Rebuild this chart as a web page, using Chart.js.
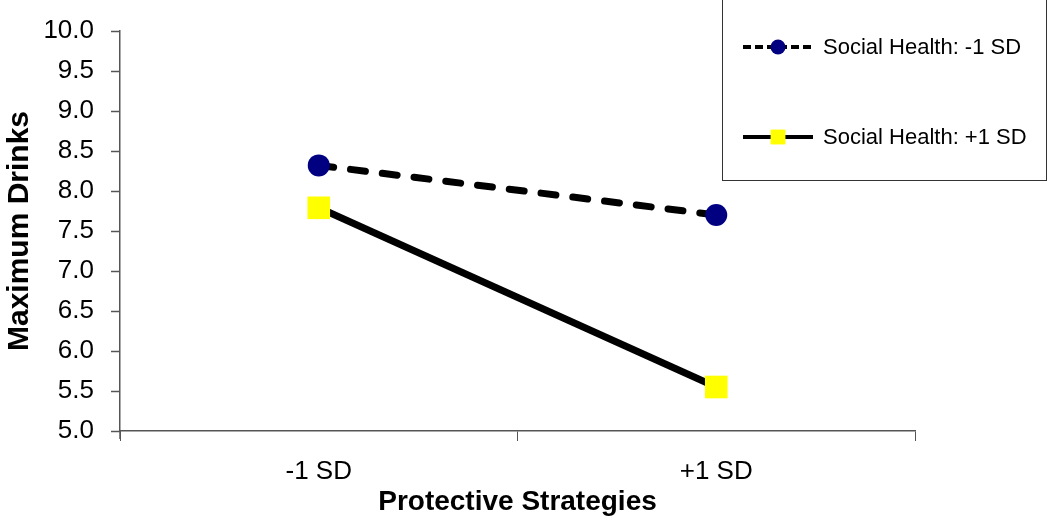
<!DOCTYPE html>
<html>
<head>
<meta charset="utf-8">
<script src="https://cdn.jsdelivr.net/npm/chart.js@4/dist/chart.umd.min.js"></script>
<style>
  html, body { margin: 0; padding: 0; background: #fff; }
  #wrap { width: 1050px; height: 519px; }
</style>
</head>
<body>
<div id="wrap"><canvas id="drinksChart" width="1050" height="519"></canvas></div>
<script>
// values
const categories = ['-1 SD', '+1 SD'];
const lowSocialHealth = [8.32, 7.70];
const highSocialHealth = [7.79, 5.55];
const seriesNames = ['Social Health: -1 SD', 'Social Health: +1 SD'];

const FONT = '"Liberation Sans", Arial, sans-serif';

// small tick marks on the left of the y axis
const yTickMarks = {
  id: 'yTickMarks',
  afterDraw(chart) {
    const y = chart.scales.y;
    const ctx = chart.ctx;
    ctx.save();
    ctx.strokeStyle = '#555';
    ctx.lineWidth = 1.5;
    y.ticks.forEach((t) => {
      const py = Math.round(y.getPixelForValue(t.value)) + 0.5;
      ctx.beginPath();
      ctx.moveTo(y.right - 9, py);
      ctx.lineTo(y.right, py);
      ctx.stroke();
    });
    // axis line runs a bit past the x axis
    ctx.beginPath();
    ctx.moveTo(y.right, y.bottom);
    ctx.lineTo(y.right, y.bottom + 8);
    ctx.stroke();
    ctx.restore();
  }
};

// legend box in the top right corner, like the original
const boxLegend = {
  id: 'boxLegend',
  afterDraw(chart) {
    const ctx = chart.ctx;
    const left = 722, right = chart.width - 4, top = -1, bottom = 180;
    ctx.save();
    ctx.strokeStyle = '#333';
    ctx.lineWidth = 1;
    ctx.strokeRect(left + 0.5, top + 0.5, right - left, bottom - top);

    const rows = [47, 137];
    chart.data.datasets.forEach((ds, i) => {
      const y = rows[i];
      ctx.strokeStyle = ds.borderColor;
      ctx.lineWidth = 4;
      ctx.lineCap = 'butt';
      ctx.setLineDash(ds.borderDash ? [8, 4] : []);
      ctx.beginPath();
      ctx.moveTo(743, y);
      ctx.lineTo(813, y);
      ctx.stroke();
      ctx.setLineDash([]);
      ctx.fillStyle = ds.pointBackgroundColor;
      Chart.helpers.drawPoint(ctx, {
        pointStyle: ds.pointStyle,
        radius: ds.legendRadius,
        borderWidth: 0
      }, 778, y);

      ctx.fillStyle = '#000';
      ctx.font = '22px ' + FONT;
      ctx.textBaseline = 'middle';
      ctx.textAlign = 'left';
      ctx.fillText(ds.label, 823, y + 1);
    });
    ctx.restore();
  }
};

new Chart(document.getElementById('drinksChart'), {
  type: 'line',
  data: {
    labels: categories,
    datasets: [
      {
        label: seriesNames[0],
        data: lowSocialHealth,
        borderColor: '#000',
        borderWidth: 7,
        borderDash: [15, 17],
        borderCapStyle: 'round',
        pointStyle: 'circle',
        pointRadius: 11,
        legendRadius: 7.5,
        pointBorderWidth: 0,
        pointBackgroundColor: '#000080',
        pointBorderColor: '#000080'
      },
      {
        label: seriesNames[1],
        data: highSocialHealth,
        borderColor: '#000',
        borderWidth: 7,
        pointStyle: 'rect',
        pointRadius: 16,
        legendRadius: 10.5,
        pointBorderWidth: 0,
        pointBackgroundColor: '#ffff00',
        pointBorderColor: '#ffff00'
      }
    ]
  },
  options: {
    responsive: false,
    animation: false,
    layout: { padding: { top: 31, right: 135, left: 0, bottom: 0 } },
    plugins: {
      legend: { display: false },
      tooltip: { enabled: false }
    },
    scales: {
      x: {
        offset: true,
        grid: {
          offset: true,
          drawOnChartArea: false,
          drawTicks: true,
          tickLength: 10,
          color: '#555'
        },
        border: { display: true, color: '#555', width: 1.5 },
        ticks: {
          color: '#000',
          padding: 15,
          font: { family: FONT, size: 26 }
        },
        title: {
          display: true,
          text: 'Protective Strategies',
          color: '#000',
          padding: { top: 0, bottom: 0 },
          font: { family: FONT, size: 28, weight: 'bold' }
        },
        afterFit(scale) {
          scale.height = 88;
          scale.paddingLeft = 0;
          scale.paddingRight = 0;
        }
      },
      y: {
        min: 5,
        max: 10,
        grid: { display: false },
        border: { display: true, color: '#555', width: 1.5 },
        ticks: {
          stepSize: 0.5,
          color: '#000',
          padding: 18,
          font: { family: FONT, size: 26 },
          callback: (v) => v.toFixed(1)
        },
        title: {
          display: true,
          text: 'Maximum Drinks',
          color: '#000',
          padding: { top: 2, bottom: 0 },
          font: { family: FONT, size: 30, weight: 'bold' }
        },
        afterFit(scale) {
          scale.width = 120;
          scale.paddingTop = 0;
          scale.paddingBottom = 0;
        }
      }
    }
  },
  plugins: [yTickMarks, boxLegend]
});
</script>
</body>
</html>
